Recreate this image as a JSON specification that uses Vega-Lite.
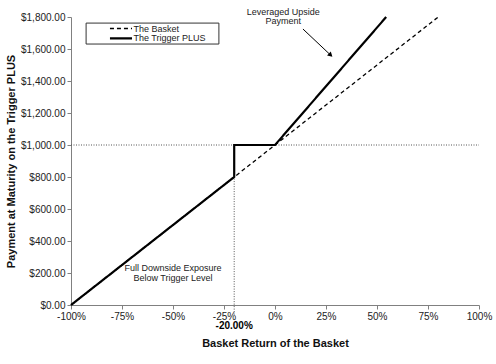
{
  "$schema": "https://vega.github.io/schema/vega-lite/v6.json",
  "width": 408,
  "height": 288,
  "autosize": {"type": "none"},
  "padding": {"left": 71, "top": 17, "right": 17, "bottom": 59},
  "config": {
    "view": {"stroke": null},
    "font": "Liberation Sans",
    "axis": {"grid": false, "domainColor": "#808080", "tickColor": "#808080", "labelColor": "#222222", "labelFontSize": 10, "titleFontSize": 11, "titleFontWeight": "bold", "titleColor": "#111111", "tickSize": 4, "labelOverlap": false, "labelFlush": false, "labelBound": false}
  },
  "datasets": {
    "lines": [
      {"series": "The Basket", "ord": 1, "ret": -1.0, "pay": 0},
      {"series": "The Basket", "ord": 2, "ret": 0.8, "pay": 1800},
      {"series": "The Trigger PLUS", "ord": 1, "ret": -1.0, "pay": 0},
      {"series": "The Trigger PLUS", "ord": 2, "ret": -0.2, "pay": 800},
      {"series": "The Trigger PLUS", "ord": 3, "ret": -0.2, "pay": 1000},
      {"series": "The Trigger PLUS", "ord": 4, "ret": 0.0, "pay": 1000},
      {"series": "The Trigger PLUS", "ord": 5, "ret": 0.545, "pay": 1800}
    ],
    "legendRows": [
      {"series": "The Basket", "ret": -0.809, "ret2": -0.701, "pay": 1728, "lx": -0.694},
      {"series": "The Trigger PLUS", "ret": -0.809, "ret2": -0.701, "pay": 1666, "lx": -0.694}
    ]
  },
  "encoding": {
    "x": {
      "field": "ret", "type": "quantitative",
      "scale": {"domain": [-1, 1], "nice": false},
      "axis": {"format": ".0%", "values": [-1, -0.75, -0.5, -0.25, 0, 0.25, 0.5, 0.75, 1], "title": "Basket Return of the Basket", "titlePadding": 16, "labelOverlap": false, "labelExpr": "replace(datum.label, '\u2212', '-')"}
    },
    "y": {
      "field": "pay", "type": "quantitative",
      "scale": {"domain": [0, 1800], "nice": false},
      "axis": {"format": "$,.2f", "values": [0, 200, 400, 600, 800, 1000, 1200, 1400, 1600, 1800], "tickCount": 10, "title": "Payment at Maturity on the Trigger PLUS", "titlePadding": 4, "labelOverlap": false}
    }
  },
  "layer": [
    {
      "data": {"values": [{"ret": -1.0, "ret2": 1.0, "pay": 1000}]},
      "mark": {"type": "rule", "strokeDash": [1, 1.5], "color": "#555555", "strokeWidth": 1},
      "encoding": {
        "x2": {"field": "ret2"}
      }
    },
    {
      "data": {"values": [{"ret": -0.2, "pay": -60, "pay2": 800}]},
      "mark": {"type": "rule", "strokeDash": [1, 1.5], "color": "#555555", "strokeWidth": 1, "clip": false},
      "encoding": {
        "y2": {"field": "pay2"}
      }
    },
    {
      "data": {"name": "lines"},
      "mark": {"type": "line", "color": "black"},
      "encoding": {
        "order": {"field": "ord"},
        "detail": {"field": "series"},
        "strokeDash": {
          "field": "series", "type": "nominal",
          "scale": {"domain": ["The Basket", "The Trigger PLUS"], "range": [[4, 3], [1, 0]]},
          "legend": null
        },
        "strokeWidth": {
          "field": "series", "type": "nominal",
          "scale": {"domain": ["The Basket", "The Trigger PLUS"], "range": [1.3, 2.2]},
          "legend": null
        }
      }
    },
    {
      "data": {"values": [{"ret": -0.926, "ret2": -0.275, "pay": 1762, "pay2": 1631}]},
      "mark": {"type": "rect", "fill": "white", "stroke": "#333333", "strokeWidth": 1},
      "encoding": {
        "x2": {"field": "ret2"},
        "y2": {"field": "pay2"}
      }
    },
    {
      "data": {"name": "legendRows"},
      "mark": {"type": "rule", "color": "black"},
      "encoding": {
        "x2": {"field": "ret2"},
        "strokeDash": {"field": "series", "type": "nominal", "legend": null},
        "strokeWidth": {"field": "series", "type": "nominal", "legend": null}
      }
    },
    {
      "data": {"name": "legendRows"},
      "mark": {"type": "text", "align": "left", "fontSize": 9, "color": "#222222"},
      "encoding": {
        "x": {"field": "lx", "type": "quantitative"},
        "text": {"field": "series"}
      }
    },
    {
      "data": {"values": [{"ret": -0.2, "pay": -131, "t": "-20.00%"}]},
      "mark": {"type": "text", "fontWeight": "bold", "fontSize": 10, "color": "black", "clip": false},
      "encoding": {
        "text": {"field": "t"}
      }
    },
    {
      "data": {"values": [
        {"ret": 0.04, "pay": 1831, "t": "Leveraged Upside"},
        {"ret": 0.04, "pay": 1772, "t": "Payment"},
        {"ret": -0.5, "pay": 231, "t": "Full Downside Exposure"},
        {"ret": -0.5, "pay": 169, "t": "Below Trigger Level"}
      ]},
      "mark": {"type": "text", "fontSize": 9, "color": "#222222", "clip": false},
      "encoding": {
        "text": {"field": "t"}
      }
    },
    {
      "data": {"values": [{"ret": 0.137, "pay": 1725, "ret2": 0.27, "pay2": 1565}]},
      "mark": {"type": "rule", "color": "black", "strokeWidth": 1},
      "encoding": {
        "x2": {"field": "ret2"},
        "y2": {"field": "pay2"}
      }
    },
    {
      "data": {"values": [{"ret": 0.27, "pay": 1565}]},
      "mark": {"type": "point", "shape": "triangle", "filled": true, "color": "black", "size": 30, "angle": 133, "opacity": 1}
    }
  ]
}
